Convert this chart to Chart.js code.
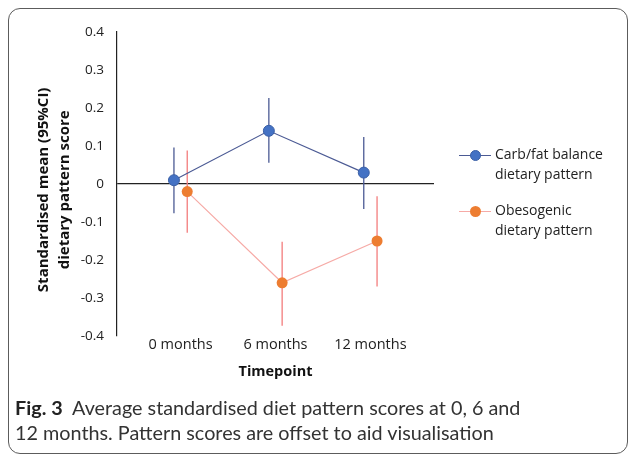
<!DOCTYPE html>
<html>
<head>
<meta charset="utf-8">
<script src="https://cdn.jsdelivr.net/npm/chart.js@4.4.0/dist/chart.umd.min.js"></script>
<style>
  body { margin: 0; background: #fff; }
  #wrap { position: relative; width: 629px; height: 454px; overflow: hidden; }
  #frame { position: absolute; left: 8px; top: 8px; width: 620px; height: 446px;
           border: 1.3px solid #5c5c5c; border-radius: 12px; box-sizing: border-box; }
  canvas { position: absolute; left: 0; top: 0; }
  .legend { position: absolute; left: 459px; font: 14px "Open Sans", sans-serif; color: #222; }
  .legend .item { position: relative; height: 56px; }
  .legend .sw { position: absolute; left: 0; top: 0; width: 32px; height: 1.3px; }
  .legend .dot { position: absolute; left: 11px; top: -5px; width: 11px; height: 11px; border-radius: 50%; }
  .legend .txt { position: absolute; left: 36px; top: -11px; line-height: 20px; white-space: nowrap; }
  #caption { position: absolute; left: 15px; top: 395px; font: 19.8px Lato, sans-serif; color: #333;
             line-height: 25px; }
  #caption b { color: #222; }
</style>
</head>
<body>
<div id="wrap">
  <div id="frame"></div>
  <canvas id="chart" width="629" height="454"></canvas>
  <div class="legend" style="top:155px">
    <div class="item">
      <div class="sw" style="background:#4b5a94"></div>
      <div class="dot" style="background:#4472c4;border:1px solid #3a5fa6;box-sizing:border-box"></div>
      <div class="txt">Carb/fat balance<br>dietary pattern</div>
    </div>
    <div class="item">
      <div class="sw" style="background:#f6aaa6"></div>
      <div class="dot" style="background:#ed7d31"></div>
      <div class="txt">Obesogenic<br>dietary pattern</div>
    </div>
  </div>
  <div id="caption"><b>Fig. 3</b>&nbsp; Average standardised diet pattern scores at 0, 6 and<br>12 months. Pattern scores are offset to aid visualisation</div>
</div>
<script>
const categories = ['0 months', '6 months', '12 months'];
const yTicks = [0.4, 0.3, 0.2, 0.1, 0, -0.1, -0.2, -0.3, -0.4];

// carb/fat balance pattern: mean and 95% CI
const carbFatMean = [0.01, 0.14, 0.03];
const carbFatLow = [-0.077, 0.056, -0.066];
const carbFatHigh = [0.096, 0.226, 0.124];

// obesogenic pattern: mean and 95% CI
const obesoMean = [-0.02, -0.26, -0.15];
const obesoLow = [-0.128, -0.373, -0.27];
const obesoHigh = [0.088, -0.152, -0.032];

// horizontal offset of each series (the figure offsets them)
const carbFatShift = -0.07;
const obesoShift = 0.07;

const blueLine = '#4b5a94';
const blueDot = '#4472c4';
const orangeLine = '#f6aaa6';
const orangeBar = '#f37c7c';
const orangeDot = '#ed7d31';

function points(mean, shift) {
  return mean.map((v, i) => ({x: i + shift, y: v}));
}

function errorBars(low, high, shift, color) {
  return low.map((lo, i) => ({
    data: [{x: i + shift, y: lo}, {x: i + shift, y: high[i]}],
    borderColor: color,
    borderWidth: 1.3,
    pointRadius: 0,
    order: 2
  }));
}

let datasets = [];
datasets = datasets.concat(errorBars(carbFatLow, carbFatHigh, carbFatShift, blueLine));
datasets = datasets.concat(errorBars(obesoLow, obesoHigh, obesoShift, orangeBar));
datasets.push({
  label: 'Obesogenic dietary pattern',
  data: points(obesoMean, obesoShift),
  borderColor: orangeLine,
  borderWidth: 1.2,
  pointRadius: 5.5,
  pointBackgroundColor: orangeDot,
  pointBorderColor: orangeDot,
  pointBorderWidth: 0,
  order: 1
});
datasets.push({
  label: 'Carb/fat balance dietary pattern',
  data: points(carbFatMean, carbFatShift),
  borderColor: blueLine,
  borderWidth: 1.2,
  pointRadius: 5.5,
  pointBackgroundColor: blueDot,
  pointBorderColor: '#3a5fa6',
  pointBorderWidth: 1,
  order: 0
});

// trailing spaces nudge the rotated title down a little
const pad = '\u00a0\u00a0\u00a0';

let ctx = document.getElementById('chart').getContext('2d');
window.dietChart = new Chart(ctx, {
  type: 'line',
  data: {datasets: datasets},
  options: {
    responsive: false,
    animation: false,
    layout: {padding: {left: 0, top: 32, right: 195, bottom: 73}},
    plugins: {legend: {display: false}, tooltip: {enabled: false}},
    scales: {
      x: {
        type: 'linear',
        min: -0.67,
        max: 2.67,
        afterFit: function(scale) { scale.height = 45; },
        afterBuildTicks: function(scale) {
          scale.ticks = categories.map((c, i) => ({value: i}));
        },
        grid: {display: false},
        border: {display: false},
        ticks: {
          padding: -8,
          maxRotation: 0,
          autoSkip: false,
          color: '#222',
          font: {family: 'Open Sans', size: 14.5},
          callback: (v) => categories[v]
        },
        title: {
          display: true,
          text: 'Timepoint',
          color: '#111',
          padding: 0,
          font: {family: 'Open Sans', size: 14.5, weight: 'bold'}
        }
      },
      y: {
        min: -0.4,
        max: 0.4,
        afterFit: function(scale) { scale.width = 117; },
        afterBuildTicks: function(scale) {
          scale.ticks = yTicks.map(v => ({value: v}));
        },
        grid: {
          drawTicks: false,
          color: (c) => (c.tick && c.tick.value === 0) ? '#222' : 'rgba(0,0,0,0)',
          lineWidth: 1.2
        },
        border: {display: true, color: '#222', width: 1.2},
        ticks: {
          padding: 13,
          color: '#222',
          font: {family: 'Open Sans', size: 13.5},
          callback: (v) => String(Math.round(v * 10) / 10)
        },
        title: {
          display: true,
          text: ['Standardised mean (95%CI)' + pad, 'dietary pattern score' + pad],
          color: '#111',
          padding: {top: 34, bottom: 0},
          font: {family: 'Open Sans', size: 15, weight: 'bold', lineHeight: 1.35}
        }
      }
    }
  }
});
</script>
</body>
</html>
